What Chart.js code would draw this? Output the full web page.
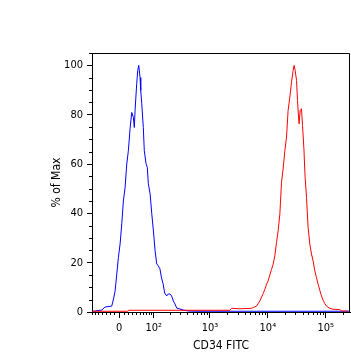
<!DOCTYPE html>
<html>
<head>
<meta charset="utf-8">
<script src="https://cdn.jsdelivr.net/npm/chart.js@4/dist/chart.umd.min.js"></script>
<style>
  html, body { margin: 0; padding: 0; background: #fff; }
  #grafico { display: block; }
</style>
</head>
<body>
<canvas id="grafico" width="351" height="354"></canvas>
<script>
// histogram values: [CD34 FITC intensity, % of Max]
const controle = [
  [-70, 0.2], [-40, 0.8], [-32, 2.0], [-16, 2.4], [-12, 5.3], [-8.6, 8.5], [-4.9, 15.4],
  [-1.5, 22], [2.2, 27.6], [5.8, 35.8], [9.3, 45], [13, 50.4], [16.8, 60], [20.4, 65.4],
  [24.4, 74.4], [28.4, 80.9], [32.4, 78.9], [34.8, 74.8], [36.7, 81.7], [41.1, 92.7],
  [43.9, 98], [46.7, 100], [50.5, 95], [52.5, 89.8], [55.5, 84.6], [60.5, 74.8],
  [63.7, 65.4], [69.6, 60.2], [74.3, 58.5], [78, 52], [84.8, 48], [91.8, 39.8],
  [98.8, 32.9], [106.6, 24.8], [114.6, 19.5], [122.6, 18.7], [131.7, 17.5], [141, 13.8],
  [151, 11.4], [161, 7.7], [175, 6.5], [187, 7.3], [201, 7.3], [215, 6.5], [230, 4.5],
  [246, 3.3], [264, 1.6], [302, 1.2], [345, 0.8], [421, 0.4], [600, 0.3], [262144, 0.3]
];
const cd34 = [
  [-70, 0.3], [18, 0.3], [22, 0.7], [1200, 0.7], [2214, 0.7], [2368, 1.5], [3294, 1.3],
  [5238, 1.5], [5589, 1.8], [6399, 2.4], [6804, 3.4], [7290, 4.5], [7803, 6.1], [8316, 7.5],
  [8883, 9.2], [9504, 11.3], [10125, 12.6], [10827, 15], [11583, 17.3], [12339, 19.4],
  [13203, 22.8], [14121, 28.2], [15066, 32.9], [16119, 39.7], [17226, 52.6], [18360, 58],
  [19656, 65.4], [21033, 70.9], [22383, 81.7], [23976, 87.1], [25623, 93.2], [27324, 98],
  [28431, 100], [29592, 98], [31293, 93.9], [32535, 85.8], [33858, 79], [34695, 76.3],
  [36099, 81.7], [38124, 82.4], [39690, 75.6], [41823, 66.8], [44010, 54.6], [46548, 46.5],
  [49572, 34.3], [53055, 27.5], [56727, 23.5], [60480, 20.7], [64665, 16.7], [69201, 13.9],
  [73710, 11.3], [78894, 8.8], [84375, 6.5], [89937, 4.8], [96174, 3.4], [102924, 2.4],
  [117315, 1.5], [133677, 1.1], [174366, 1.0], [186435, 0.4], [239355, 0.4]
];

const xMajor = [0, 100, 1000, 10000, 100000];
const xMinor = [-70, -60, -50, -40, -30, -20, -10, 10, 20, 30, 40, 50, 60, 70, 80, 90,
  200, 300, 400, 500, 600, 700, 800, 900, 2000, 3000, 4000, 5000, 6000, 7000, 8000, 9000,
  20000, 30000, 40000, 50000, 60000, 70000, 80000, 90000, 200000];
const yMajor = [0, 20, 40, 60, 80, 100];
const yMinor = [5, 10, 15, 25, 30, 35, 45, 50, 55, 65, 70, 75, 85, 90, 95, 105];
const expoentes = { 100: '10\u00B2', 1000: '10\u00B3', 10000: '10\u2074', 100000: '10\u2075' };

const LARG = 54;
function tf(v) { return Math.asinh(v / LARG) / Math.LN10; }

class LogicleScale extends Chart.LinearScale {
  determineDataLimits() {
    this.min = this.options.min;
    this.max = this.options.max;
  }
  buildTicks() {
    return xMajor.map(v => ({ value: v }));
  }
  configure() {
    super.configure();
    this._tmin = tf(this.min);
    this._tmax = tf(this.max);
  }
  getPixelForValue(v) {
    return this.getPixelForDecimal((tf(v) - this._tmin) / (this._tmax - this._tmin));
  }
  getValueForPixel(p) {
    const t = this._tmin + this.getDecimalForPixel(p) * (this._tmax - this._tmin);
    return LARG * Math.sinh(t * Math.LN10);
  }
}
LogicleScale.id = 'logicle';
LogicleScale.defaults = {};
Chart.register(LogicleScale);

const fonte = { family: "'DejaVu Sans Condensed', 'DejaVu Sans', sans-serif", size: 11 };

// minor ticks and the top/right frame
const moldura = {
  id: 'moldura',
  afterDraw(chart) {
    const { ctx, chartArea: a, scales: { x, y } } = chart;
    ctx.save();
    ctx.strokeStyle = '#000';
    ctx.lineWidth = 1;
    ctx.beginPath();
    xMinor.forEach(v => {
      const px = Math.round(x.getPixelForValue(v)) + 0.5;
      ctx.moveTo(px, a.bottom);
      ctx.lineTo(px, a.bottom + 3);
    });
    yMinor.forEach(v => {
      const py = Math.round(y.getPixelForValue(v)) + 0.5;
      ctx.moveTo(a.left, py);
      ctx.lineTo(a.left - 3, py);
    });
    ctx.moveTo(a.left, a.top + 0.5);
    ctx.lineTo(a.right - 0.5, a.top + 0.5);
    ctx.lineTo(a.right - 0.5, a.bottom);
    ctx.stroke();
    ctx.restore();
  }
};

new Chart(document.getElementById('grafico').getContext('2d'), {
  type: 'line',
  data: {
    datasets: [
      {
        label: 'controle',
        data: controle.map(p => ({ x: p[0], y: p[1] })),
        borderColor: '#0000FF',
        borderWidth: 1,
        pointRadius: 0,
        order: 2
      },
      {
        label: 'CD34',
        data: cd34.map(p => ({ x: p[0], y: p[1] })),
        borderColor: '#FF0000',
        borderWidth: 1,
        pointRadius: 0,
        order: 1
      }
    ]
  },
  options: {
    responsive: false,
    animation: false,
    devicePixelRatio: 1,
    layout: { padding: { top: 53, right: 1, left: 0, bottom: 0 } },
    plugins: { legend: { display: false }, tooltip: { enabled: false } },
    scales: {
      x: {
        type: 'logicle',
        min: -70,
        max: 262144,
        afterFit: s => { s.height = 42; },
        grid: { drawOnChartArea: false, tickLength: 6, tickColor: '#000' },
        border: { color: '#000' },
        ticks: {
          color: '#000', font: fonte, padding: 4, autoSkip: false, maxRotation: 0,
          callback: v => (v === 0 ? '0' : expoentes[v])
        },
        title: { display: true, text: 'CD34 FITC', color: '#000', font: { ...fonte, size: 12 }, padding: { top: 0, bottom: 1 } }
      },
      y: {
        min: 0,
        max: 105,
        afterFit: s => { s.width = 92; },
        afterBuildTicks: s => { s.ticks = yMajor.map(v => ({ value: v })); },
        grid: { drawOnChartArea: false, tickLength: 5, tickColor: '#000' },
        border: { color: '#000' },
        ticks: { color: '#000', font: fonte, padding: 4 },
        title: { display: true, text: '% of Max', color: '#000', font: { ...fonte, size: 12 }, padding: { top: 50, bottom: 0 } }
      }
    }
  },
  plugins: [moldura]
});
</script>
</body>
</html>
